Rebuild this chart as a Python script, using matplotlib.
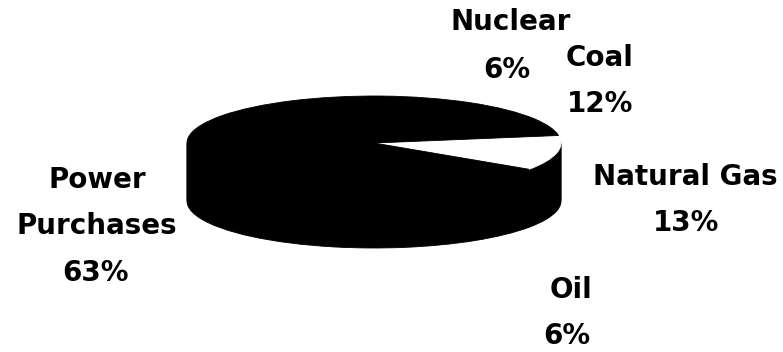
import matplotlib.pyplot as plt

# fuel mix, listed counter-clockwise starting from the lower edge of the coal slice
sources = ['Coal', 'Nuclear', 'Power Purchases', 'Oil', 'Natural Gas']
shares = [12, 6, 63, 6, 13]
slice_colors = ['white', 'black', 'black', 'black', 'black']

label_names = ['Nuclear', 'Coal', 'Natural Gas', 'Power\nPurchases', 'Oil']
label_values = ['6%', '12%', '13%', '63%', '6%']

W, H = 783, 352
k = 47 / 187            # vertical squash of the pie (tilt)
cx, cy = 374, 143       # centre of the top face, in pixels from top-left
radius = 187
depth = 58
n_layers = 30

fig = plt.figure(figsize=(W / 100, H / 100), dpi=100)
ax = fig.add_axes([0, 0, 1, 1])


def to_data_y(y_px):
    return (H - y_px) / k


# side of the disc: stacked black copies of the pie
for i in range(n_layers, 0, -1):
    off = depth * i / n_layers
    ax.pie(shares, colors=['black'] * len(shares), startangle=-34,
           center=(cx, to_data_y(cy + off)), radius=radius, frame=True,
           wedgeprops=dict(linewidth=0.6, edgecolor='black'))

# top face
wedges, _ = ax.pie(shares, colors=slice_colors, startangle=-34,
                   center=(cx, to_data_y(cy)), radius=radius, frame=True,
                   wedgeprops=dict(linewidth=0.6))
for w, c in zip(wedges, slice_colors):
    w.set_edgecolor(c)

ax.set_aspect('auto')
ax.set_xlim(0, W)
ax.set_ylim(0, H / k)
ax.axis('off')

# label centres in pixels (name line, value line)
name_pos = [(511, 22), (600, 58), (685, 177), (97, 203), (571, 290)]
value_pos = [(507, 70), (600, 104), (686, 223), (95, 273), (567, 336)]

for name, val, (nx, ny), (vx, vy) in zip(label_names, label_values,
                                         name_pos, value_pos):
    fig.text(nx / W, 1 - ny / H, name, ha='center', va='center',
             fontsize=20, fontweight='bold', family='DejaVu Sans',
             linespacing=1.8)
    fig.text(vx / W, 1 - vy / H, val, ha='center', va='center',
             fontsize=20, fontweight='bold', family='DejaVu Sans')

fig.savefig('out.png', dpi=100)
